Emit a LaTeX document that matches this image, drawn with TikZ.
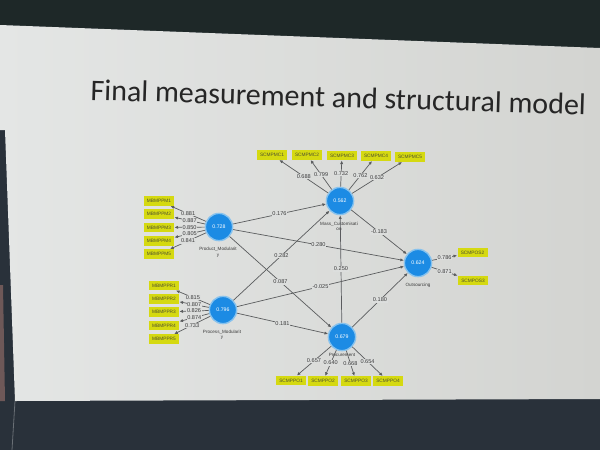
\documentclass[tikz,border=0pt]{standalone}
\usepackage{fontspec}
\setmainfont{Liberation Sans}
\newfontfamily\titlefont{Carlito}
\usetikzlibrary{arrows.meta}
\definecolor{frametop}{HTML}{1E2828}
\definecolor{framebot}{HTML}{29313A}
\definecolor{scrL}{HTML}{E4E6E5}
\definecolor{scrR}{HTML}{D3D4D1}
\definecolor{pinkish}{HTML}{6E5858}
\definecolor{titlec}{HTML}{262626}
\definecolor{plsblue}{HTML}{1C8BE4}
\definecolor{halo}{HTML}{86C2EE}
\definecolor{mvyellow}{HTML}{D5D911}
\definecolor{mvtext}{HTML}{4E5030}
\definecolor{linegrey}{HTML}{5A5C5E}
\definecolor{labtext}{HTML}{3C3C3C}
\definecolor{labbg}{HTML}{DCDEDD}
\begin{document}
\begin{tikzpicture}[x=0.5pt,y=-0.5pt,
  lv/.style={circle,fill=plsblue,draw=halo,line width=0.7pt,minimum size=13.6pt,inner sep=0pt,text=white,font=\fontsize{2.6}{3}\selectfont},
  mv/.style={rectangle,fill=mvyellow,minimum width=15pt,minimum height=4.6pt,inner sep=0pt,text=mvtext,font=\fontsize{2.4}{3}\selectfont},
  conn/.style={draw=linegrey,line width=0.35pt,-{Latex[length=1.8pt,width=1.6pt]}},
  lab/.style={fill=labbg,inner sep=0.3pt,text=labtext,font=\fontsize{2.8}{3}\selectfont},
  cname/.style={inner sep=0pt,align=center,text=labtext,font=\fontsize{2.3}{2.7}\selectfont}]
\useasboundingbox (0,0) rectangle (600,450);
% photo background
\fill[framebot] (0,0) rectangle (600,450);
\fill[frametop] (0,0) -- (600,0) -- (600,48) -- (0,25) -- cycle;
\shade[left color=scrL, right color=scrR] (0,25) -- (600,48) -- (600,399) -- (15,401) -- (5,130) -- (0,130) -- cycle;
\fill[pinkish] (0,285) -- (3,285) -- (5,401) -- (0,401) -- cycle;
\draw[framebot!70!white, line width=0.4pt] (15,401) -- (12,450);
% title
\node[anchor=base west, rotate=-1.7, inner sep=0pt, text=titlec, font=\titlefont\fontsize{15}{18}\selectfont] (title) at (90,100) {Final measurement and structural model};
% latent variables
\node[lv] (MC) at (340,201) {0.562};
\node[lv] (PM) at (219,227) {0.728};
\node[lv] (PR) at (223,310) {0.796};
\node[lv] (OS) at (418,263) {0.624};
\node[lv] (PC) at (342,337) {0.679};
% construct names
\node[cname] (MCn) at (339,226.5) {Mass\_Customisati\\on};
\node[cname] (PMn) at (218,252.5) {Product\_Modularit\\y};
\node[cname] (PRn) at (222,335) {Process\_Modularit\\y};
\node[cname] (OSn) at (418,285) {Outsourcing};
\node[cname] (PCn) at (342,355) {Procurement};
% indicators
\node[mv] (mc1) at (272,155) {SCMPMC1};
\node[mv] (mc2) at (307,155) {SCMPMC2};
\node[mv] (mc3) at (342,155.5) {SCMPMC3};
\node[mv] (mc4) at (376,156) {SCMPMC4};
\node[mv] (mc5) at (410,157) {SCMPMC5};
\node[mv] (pm1) at (159,201) {MBMPPM1};
\node[mv] (pm2) at (159,214) {MBMPPM2};
\node[mv] (pm3) at (159,227.5) {MBMPPM3};
\node[mv] (pm4) at (159,241) {MBMPPM4};
\node[mv] (pm5) at (159,254) {MBMPPM5};
\node[mv] (pr1) at (164,285.5) {MBMPPR1};
\node[mv] (pr2) at (164,299) {MBMPPR2};
\node[mv] (pr3) at (164,312) {MBMPPR3};
\node[mv] (pr4) at (164,325.5) {MBMPPR4};
\node[mv] (pr5) at (164,339) {MBMPPR5};
\node[mv] (os2) at (472.5,252.5) {SCMPOS2};
\node[mv] (os3) at (473,280.5) {SCMPOS3};
\node[mv] (pc1) at (291,380.5) {SCMPPO1};
\node[mv] (pc2) at (323,381) {SCMPPO2};
\node[mv] (pc3) at (356,381) {SCMPPO3};
\node[mv] (pc4) at (388,381) {SCMPPO4};
% outer model
\draw[conn] (MC) -- (mc1) node[lab,pos=0.5] {0.688};
\draw[conn] (MC) -- (mc2) node[lab,pos=0.5] {0.799};
\draw[conn] (MC) -- (mc3) node[lab,pos=0.5] {0.732};
\draw[conn] (MC) -- (mc4) node[lab,pos=0.5] {0.762};
\draw[conn] (MC) -- (mc5) node[lab,pos=0.5] {0.632};
\draw[conn] (PM) -- (pm1) node[lab,pos=0.5] {0.881};
\draw[conn] (PM) -- (pm2) node[lab,pos=0.5] {0.887};
\draw[conn] (PM) -- (pm3) node[lab,pos=0.5] {0.850};
\draw[conn] (PM) -- (pm4) node[lab,pos=0.5] {0.805};
\draw[conn] (PM) -- (pm5) node[lab,pos=0.5] {0.841};
\draw[conn] (PR) -- (pr1) node[lab,pos=0.5] {0.815};
\draw[conn] (PR) -- (pr2) node[lab,pos=0.5] {0.807};
\draw[conn] (PR) -- (pr3) node[lab,pos=0.5] {0.826};
\draw[conn] (PR) -- (pr4) node[lab,pos=0.5] {0.874};
\draw[conn] (PR) -- (pr5) node[lab,pos=0.5] {0.733};
\draw[conn] (OS) -- (os2) node[lab,pos=0.5] {0.786};
\draw[conn] (OS) -- (os3) node[lab,pos=0.5] {0.871};
\draw[conn] (PC) -- (pc1) node[lab,pos=0.5] {0.657};
\draw[conn] (PC) -- (pc2) node[lab,pos=0.5] {0.640};
\draw[conn] (PC) -- (pc3) node[lab,pos=0.5] {0.668};
\draw[conn] (PC) -- (pc4) node[lab,pos=0.5] {0.654};
% inner model
\draw[conn] (PM) -- (MC) node[lab,pos=0.5] {0.176};
\draw[conn] (PM) -- (OS) node[lab,pos=0.5] {0.280};
\draw[conn] (PM) -- (PC) node[lab,pos=0.5] {0.087};
\draw[conn] (PR) -- (MC) node[lab,pos=0.5] {0.282};
\draw[conn] (PR) -- (OS) node[lab,pos=0.5] {-0.025};
\draw[conn] (PR) -- (PC) node[lab,pos=0.5] {0.181};
\draw[conn] (MC) -- (OS) node[lab,pos=0.5] {-0.183};
\draw[conn] (PC) -- (MC) node[lab,pos=0.5] {0.250};
\draw[conn] (PC) -- (OS) node[lab,pos=0.5] {0.180};
\end{tikzpicture}
\end{document}
